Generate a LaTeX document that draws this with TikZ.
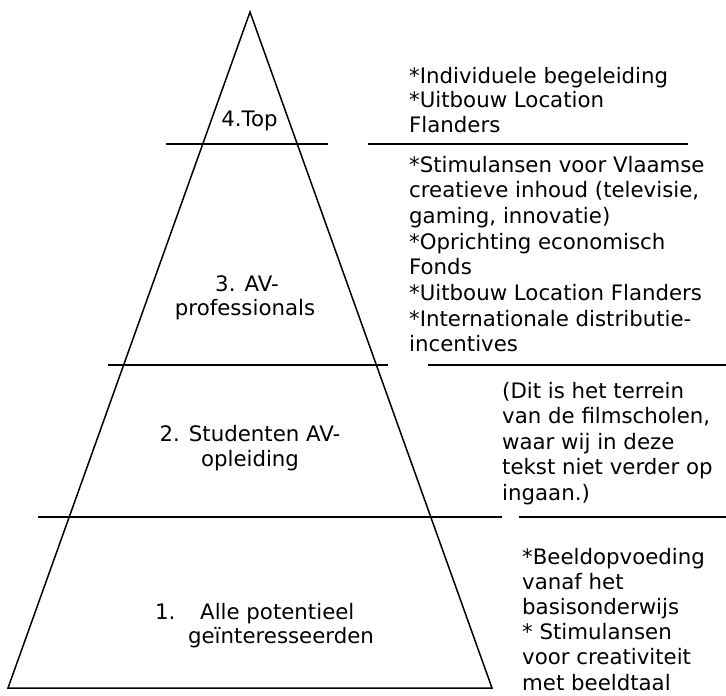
\documentclass[tikz,border=0pt]{standalone}
\usepackage{fontspec}
\setmainfont{DejaVu Sans}
\begin{document}
\begin{tikzpicture}[x=1pt,y=-1pt,
  rulestyle/.style={line width=1.5pt},
  lbl/.style={inner sep=0pt, anchor=base west, font=\fontsize{21.3}{25}\selectfont},
  clbl/.style={inner sep=0pt, anchor=base, font=\fontsize{21.3}{25}\selectfont}]
\useasboundingbox (0,0) rectangle (726,696);
% pyramid
\coordinate (apex) at (250,12);
\coordinate (bl) at (8,688);
\coordinate (br) at (492,688);
\draw[rulestyle, line join=miter] (apex) -- (bl) -- (br) -- cycle;
% dividing lines
\draw[rulestyle] (166,144) -- (328,144);
\draw[rulestyle] (368,144) -- (688,144);
\draw[rulestyle] (108,365) -- (388,365);
\draw[rulestyle] (428,365) -- (726,365);
\draw[rulestyle] (38,517) -- (502,517);
\draw[rulestyle] (519,517) -- (726,517);
% pyramid labels
\node[clbl] (top) at (249.5,126) {4.Top};
\node[clbl] (avp1) at (247,291) {3. AV-};
\node[clbl] (avp2) at (245,315) {professionals};
\node[clbl] (stu1) at (250,441) {2. Studenten AV-};
\node[clbl] (stu2) at (250,466) {opleiding};
\node[lbl] (alln) at (155,619) {1.};
\node[lbl] (all1) at (200,619) {Alle potentieel};
\node[clbl] (all2) at (281,643) {geïnteresseerden};
% right column texts
\foreach \t [count=\i] in {{*Individuele begeleiding},{*Uitbouw Location},{Flanders}}
  \node[lbl] (ra\i) at (409,{83+24.5*(\i-1)}) {\t};
\foreach \t [count=\i] in {{*Stimulansen voor Vlaamse},{creatieve inhoud (televisie,},{gaming, innovatie)},{*Oprichting economisch},{Fonds},{*Uitbouw Location Flanders},{*Internationale distributie-},{incentives}}
  \node[lbl] (rb\i) at (409,{172+25.7*(\i-1)}) {\t};
\foreach \t [count=\i] in {{(Dit is het terrein},{van de filmscholen,},{waar wij in deze},{tekst niet verder op},{ingaan.)}}
  \node[lbl] (rc\i) at (502,{398+25.5*(\i-1)}) {\t};
\foreach \t [count=\i] in {{*Beeldopvoeding},{vanaf het},{basisonderwijs},{* Stimulansen},{voor creativiteit},{met beeldtaal}}
  \node[lbl] (rd\i) at (522,{564+25.2*(\i-1)}) {\t};
\end{tikzpicture}
\end{document}
